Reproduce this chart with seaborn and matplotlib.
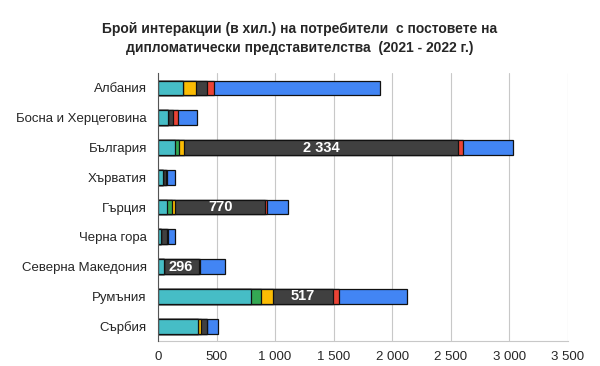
import numpy as np
import pandas as pd
import seaborn as sns
import matplotlib.pyplot as plt

countries = ["Албания", "Босна и Херцеговина", "България", "Хърватия", "Гърция",
             "Черна гора", "Северна Македония", "Румъния", "Сърбия"]

# six stacked series, left to right
teal = [210, 88, 148, 45, 74, 25, 50, 797, 340]
green = [0, 0, 34, 0, 45, 0, 0, 85, 5]
yellow = [114, 0, 43, 0, 28, 0, 0, 97, 25]
dark = [91, 43, 2334, 23, 770, 55, 296, 517, 50]
red = [66, 43, 43, 12, 17, 5, 14, 51, 0]
blue = [1418, 157, 427, 63, 177, 60, 210, 575, 95]

series = [teal, green, yellow, dark, red, blue]
colors = ["#46BDC6", "#34A853", "#FBBC04", "#404040", "#EA4335", "#4285F4"]

sns.set_style("white")
plt.rcParams['font.family'] = ['Liberation Sans', 'DejaVu Sans']

fig = plt.figure(figsize=(6, 3.66), dpi=100)
ax = fig.add_axes([0.2633, 0.0683, 0.6833, 0.732])

cum = np.cumsum(np.array(series), axis=0)
# draw the cumulative totals from the longest down so each segment shows
for i in range(len(series) - 1, -1, -1):
    df = pd.DataFrame({"country": countries, "value": cum[i]})
    sns.barplot(data=df, x="value", y="country", order=countries, color=colors[i],
                saturation=1, edgecolor="#111111", linewidth=0.9, width=0.5,
                orient="h", ax=ax, zorder=3)

# labels inside the dark segment for the large ones
start = cum[2]
for j, v in enumerate(dark):
    if v > 250:
        txt = f"{v:,}".replace(",", " ")
        ax.text(start[j] + v / 2, j, txt, color="white", fontsize=10.5, fontweight="bold",
                ha="center", va="center", zorder=5)

ax.set_xlim(0, 3500)
ax.set_ylim(8.5, -0.5)
ax.set_xticks(range(0, 3501, 500))
ax.set_xticklabels([f"{t:,}".replace(",", " ") for t in range(0, 3501, 500)], fontsize=9.5)
ax.tick_params(axis="y", labelsize=9.5, length=0, pad=8)
ax.tick_params(axis="x", length=0, pad=7)
ax.set_xlabel("")
ax.set_ylabel("")
ax.grid(axis="x", color="#c8c8c8", linewidth=0.8, zorder=0)
ax.set_axisbelow(True)
for s in ["top", "right"]:
    ax.spines[s].set_visible(False)
ax.spines["left"].set_color("#555555")
ax.spines["left"].set_zorder(6)
ax.spines["bottom"].set_color("#c8c8c8")

fig.text(0.5, 0.896, "Брой интеракции (в хил.) на потребители  с постовете на\n"
         "дипломатически представителства  (2021 - 2022 г.)",
         ha="center", va="center", fontsize=10, fontweight="bold", linespacing=1.45)

fig.savefig("out.png", dpi=100)
